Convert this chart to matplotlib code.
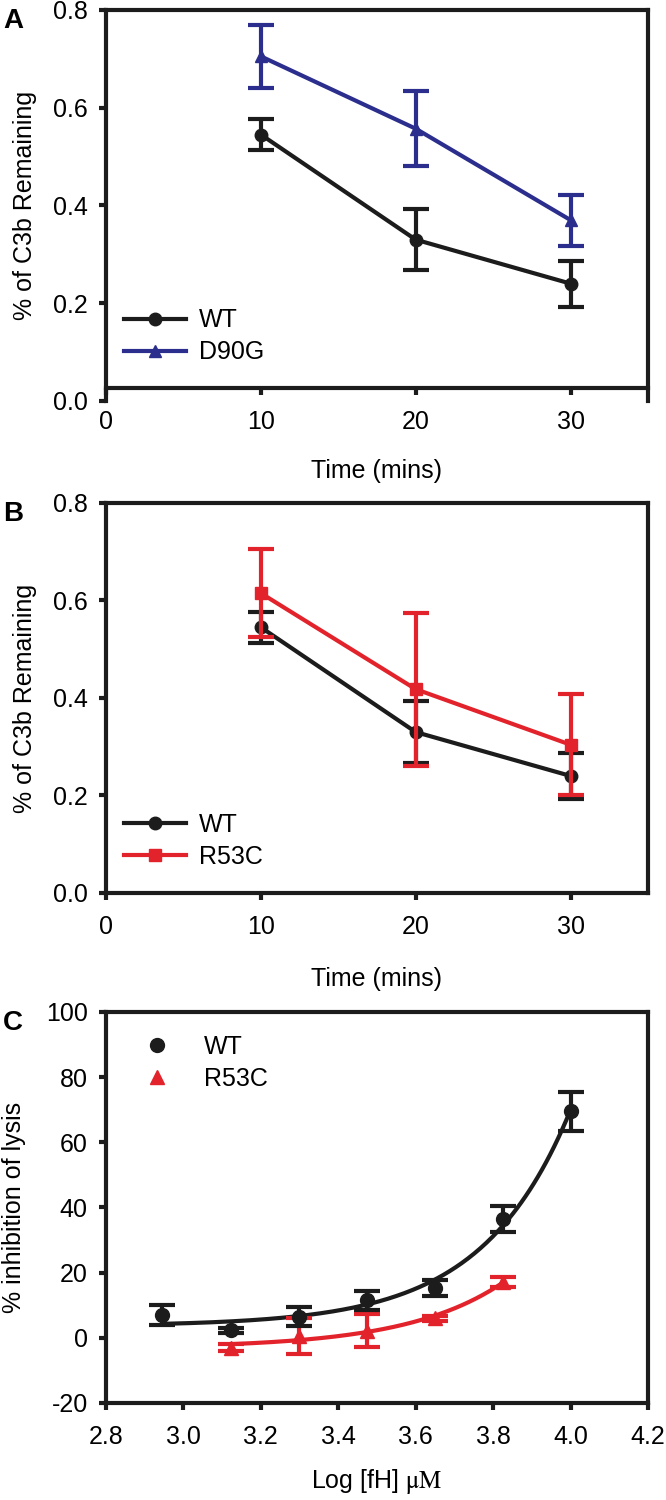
import numpy as np
import matplotlib
matplotlib.use("Agg")
import matplotlib.pyplot as plt

plt.rcParams['font.family'] = ['Liberation Sans', 'DejaVu Sans']
plt.rcParams['mathtext.fontset'] = 'stix'
plt.rcParams['axes.unicode_minus'] = False

# panels A and B: time course of C3b remaining
time = [10, 20, 30]
wt_c3b = [0.545, 0.330, 0.240]
wt_c3b_err = [0.032, 0.063, 0.047]
d90g_c3b = [0.705, 0.557, 0.370]
d90g_c3b_err = [0.064, 0.077, 0.052]
r53c_c3b = [0.615, 0.418, 0.304]
r53c_c3b_err = [0.090, 0.157, 0.104]

# panel C: inhibition of lysis vs log [fH]
wt_logfh = [2.946, 3.122, 3.298, 3.474, 3.650, 3.826, 4.000]
wt_inhib = [7.0, 2.3, 6.5, 11.5, 15.2, 36.5, 69.5]
wt_inhib_err = [3.0, 0.8, 2.8, 3.0, 2.5, 4.0, 6.0]
r53c_logfh = [3.122, 3.298, 3.474, 3.650, 3.826]
r53c_inhib = [-3.0, 0.5, 2.2, 6.0, 17.2]
r53c_inhib_err = [1.2, 5.5, 5.0, 0.8, 1.5]

BLACK = '#1c1c1c'
BLUE = '#2b2e8c'
RED = '#e3232b'
FS = 18


def fit_exp(x, y):
    # y = y0 + a*exp(b*(x - x0)), grid search on b, least squares for y0, a
    x = np.asarray(x)
    y = np.asarray(y)
    best = None
    for b in np.linspace(0.5, 15, 3000):
        A = np.column_stack([np.ones_like(x), np.exp(b * (x - x[0]))])
        coef, *_ = np.linalg.lstsq(A, y, rcond=None)
        r = np.sum((A @ coef - y) ** 2)
        if best is None or r < best[0]:
            best = (r, b, coef)
    _, b, coef = best
    xs = np.linspace(x[0], x[-1], 200)
    return xs, coef[0] + coef[1] * np.exp(b * (xs - x[0]))


def style(ax):
    for s in ax.spines.values():
        s.set_linewidth(3)
        s.set_color(BLACK)
    ax.tick_params(direction='out', length=5, width=3, labelsize=FS,
                   top=False, right=False, color=BLACK)
    ax.tick_params(axis='y', pad=8)
    ax.tick_params(axis='x', pad=11)


def time_panel(ax, mut, mut_err, color, marker, label, leg_y, xlab_y):
    ax.errorbar(time, wt_c3b, yerr=wt_c3b_err, fmt='none', ecolor=BLACK,
                elinewidth=3, capsize=9.5, capthick=3, zorder=2)
    ax.plot(time, wt_c3b, '-o', color=BLACK, lw=3, ms=9, label='WT', zorder=3)
    ax.errorbar(time, mut, yerr=mut_err, fmt='none', ecolor=color,
                elinewidth=3, capsize=9.5, capthick=3, zorder=4)
    ax.plot(time, mut, '-', marker=marker, color=color, lw=3, ms=9,
            label=label, zorder=5)
    ax.set_xlim(0, 35)
    ax.set_ylim(0, 0.8)
    ax.set_xticks([0, 10, 20, 30])
    ax.set_yticks([0.0, 0.2, 0.4, 0.6, 0.8])
    ax.set_yticklabels(['0.0', '0.2', '0.4', '0.6', '0.8'])
    ax.set_xlabel('Time (mins)', fontsize=FS)
    ax.set_ylabel('% of C3b Remaining', fontsize=FS)
    ax.xaxis.set_label_coords(0.5, xlab_y)
    ax.yaxis.set_label_coords(-0.127, 0.5)
    style(ax)
    ax.legend(loc='upper left', bbox_to_anchor=(0.033, leg_y), frameon=False,
              fontsize=FS, handlelength=2.5, handletextpad=0.5,
              labelspacing=0.32, borderpad=0, borderaxespad=0)


fig = plt.figure(figsize=(6.66, 15), dpi=100)

axA = fig.add_axes([0.159, 0.7327, 0.814, 0.2607])
time_panel(axA, d90g_c3b, d90g_c3b_err, BLUE, '^', 'D90G', 0.237, -0.148)
axA.spines['bottom'].set_position(('data', 0.027))

axB = fig.add_axes([0.159, 0.4047, 0.814, 0.2600])
time_panel(axB, r53c_c3b, r53c_c3b_err, RED, 's', 'R53C', 0.205, -0.19)

axC = fig.add_axes([0.159, 0.0647, 0.814, 0.2607])
xs, ys = fit_exp(wt_logfh, wt_inhib)
axC.plot(xs, ys, color=BLACK, lw=3, zorder=2)
xs, ys = fit_exp(r53c_logfh, r53c_inhib)
axC.plot(xs, ys, color=RED, lw=3, zorder=2)
axC.errorbar(wt_logfh, wt_inhib, yerr=wt_inhib_err, fmt='o', color=BLACK,
             ms=10, elinewidth=3, capsize=9.5, capthick=3, label='WT', zorder=4)
axC.errorbar(r53c_logfh, r53c_inhib, yerr=r53c_inhib_err, fmt='^', color=RED,
             ms=10, elinewidth=3, capsize=9.5, capthick=3, label='R53C', zorder=3)
axC.set_xlim(2.8, 4.2)
axC.set_ylim(-20, 100)
axC.set_xticks(np.arange(2.8, 4.21, 0.2))
axC.set_xticklabels(['2.8', '3.0', '3.2', '3.4', '3.6', '3.8', '4.0', '4.2'])
axC.set_yticks(range(-20, 101, 20))
axC.set_xlabel('Log [fH] $\\mathrm{\\mu M}$', fontsize=FS)
axC.set_ylabel('% inhibition of lysis', fontsize=FS)
axC.xaxis.set_label_coords(0.5, -0.165)
axC.yaxis.set_label_coords(-0.148, 0.5)
style(axC)
h, l = axC.get_legend_handles_labels()
h = [x[0] for x in h]
axC.legend(h, l, loc='upper left', bbox_to_anchor=(0.066, 0.942), frameon=False,
           fontsize=FS, handlelength=1.2, handletextpad=1.28, numpoints=1,
           labelspacing=0.32, borderpad=0, borderaxespad=0)

for ax, letter in [(axA, 'A'), (axB, 'B'), (axC, 'C')]:
    ax.text(-0.19, 1.005, letter, transform=ax.transAxes, fontsize=20,
            fontweight='bold', va='top', ha='left')

fig.savefig('out.png', dpi=100)
